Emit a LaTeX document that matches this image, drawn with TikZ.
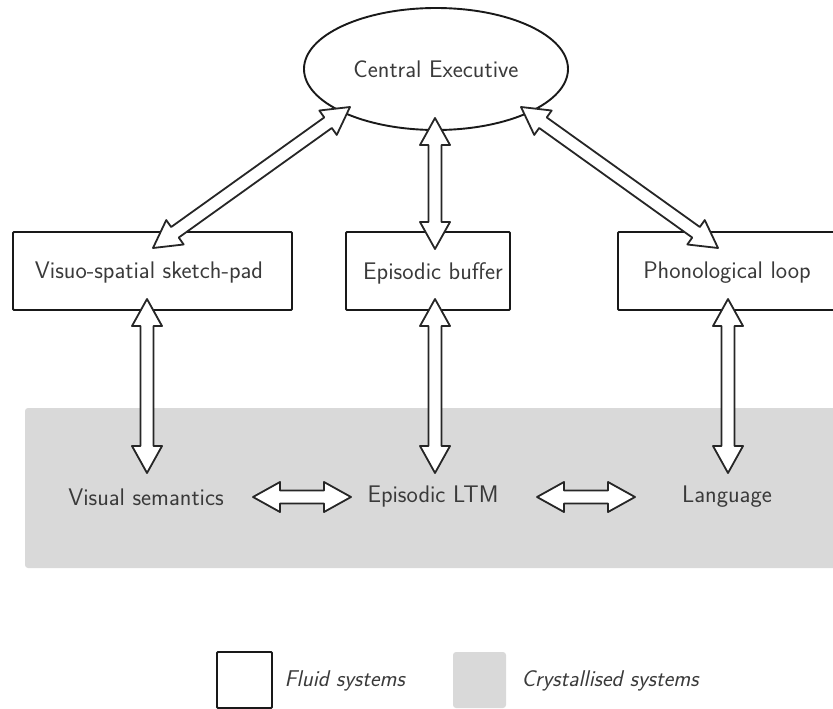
\documentclass[tikz,border=0pt]{standalone}
\usetikzlibrary{calc,shapes.geometric}
\definecolor{txt}{HTML}{3A3A3A}
\definecolor{crys}{HTML}{D9D9D9}
\newcommand\arrL{27pt}
\newcommand\arrW{15pt}
\newcommand\arrS{6.5pt}
\newcommand\dbl[2]{%
  \draw[arrowbody] (#1)
   -- ($(#1)!\arrL!(#2)!\arrW!90:(#2)$)
   -- ($(#1)!\arrL!(#2)!\arrS!90:(#2)$)
   -- ($(#2)!\arrL!(#1)!\arrS!-90:(#1)$)
   -- ($(#2)!\arrL!(#1)!\arrW!-90:(#1)$)
   -- (#2)
   -- ($(#2)!\arrL!(#1)!\arrW!90:(#1)$)
   -- ($(#2)!\arrL!(#1)!\arrS!90:(#1)$)
   -- ($(#1)!\arrL!(#2)!\arrS!-90:(#2)$)
   -- ($(#1)!\arrL!(#2)!\arrW!-90:(#2)$)
   -- cycle;}
\tikzset{
  fluid/.style={draw=black!90, line width=1.9pt, fill=white, rounded corners=1pt, inner sep=0pt},
  lbl/.style={text=txt, font=\sffamily\fontsize{24}{28}\selectfont},
  leg/.style={text=txt, font=\sffamily\itshape\fontsize{22.8}{27}\selectfont, anchor=west},
  arrowbody/.style={draw=black!85, line width=1.8pt, fill=white, line join=round},
  crysbox/.style={fill=crys, rounded corners=3pt, inner sep=0pt}
}
\begin{document}
\begin{tikzpicture}[x=1pt, y=-1pt]
\useasboundingbox (0,0) rectangle (833,709);
% crystallised region
\node[crysbox, minimum width=830pt, minimum height=160pt] (crys) at (440,488) {};
% fluid systems
\node[fluid, ellipse, minimum width=264pt, minimum height=122pt] (ce) at (436,69) {};
\node[lbl] (cet) at (436,69) {Central Executive};
\node[fluid, minimum width=279pt, minimum height=78pt] (vsp) at (152.5,271) {};
\node[lbl] (vspt) at (149,273) {Visuo-spatial sketch-pad};
\node[fluid, minimum width=164pt, minimum height=78pt] (eb) at (428,271) {};
\node[lbl] (ebt) at (433,273) {Episodic buffer};
\node[fluid, minimum width=218pt, minimum height=78pt] (pl) at (727,271) {};
\node[lbl] (plt) at (727,273) {Phonological loop};
% crystallised systems
\node[lbl] (vs) at (146,497) {Visual semantics};
\node[lbl] (ltm) at (433,497) {Episodic LTM};
\node[lbl] (lang) at (727,497) {Language};
% arrow end points
\coordinate (ce-l) at (350,107);
\coordinate (ce-m) at (435,118);
\coordinate (ce-r) at (521,107);
\coordinate (vsp-t) at (153,248);
\coordinate (eb-t) at (435,249);
\coordinate (pl-t) at (718,248);
\coordinate (vsp-b) at (147,299);
\coordinate (eb-b) at (435,299);
\coordinate (pl-b) at (728,299);
\coordinate (vs-t) at (147,473);
\coordinate (ltm-t) at (435,473);
\coordinate (lang-t) at (728,473);
\coordinate (vs-r) at (253,497);
\coordinate (ltm-l) at (351,497);
\coordinate (ltm-r) at (537,497);
\coordinate (lang-l) at (635,497);
\dbl{ce-l}{vsp-t}
\dbl{ce-m}{eb-t}
\dbl{ce-r}{pl-t}
\dbl{vsp-b}{vs-t}
\dbl{eb-b}{ltm-t}
\dbl{pl-b}{lang-t}
\dbl{vs-r}{ltm-l}
\dbl{ltm-r}{lang-l}
% legend
\node[fluid, minimum width=55pt, minimum height=56pt] (legf) at (244.5,680) {};
\node[leg] (legft) at (281,681) {Fluid systems};
\node[crysbox, minimum width=53pt, minimum height=56pt] (legc) at (479.5,680) {};
\node[leg] (legct) at (518,681) {Crystallised systems};
\end{tikzpicture}
\end{document}
